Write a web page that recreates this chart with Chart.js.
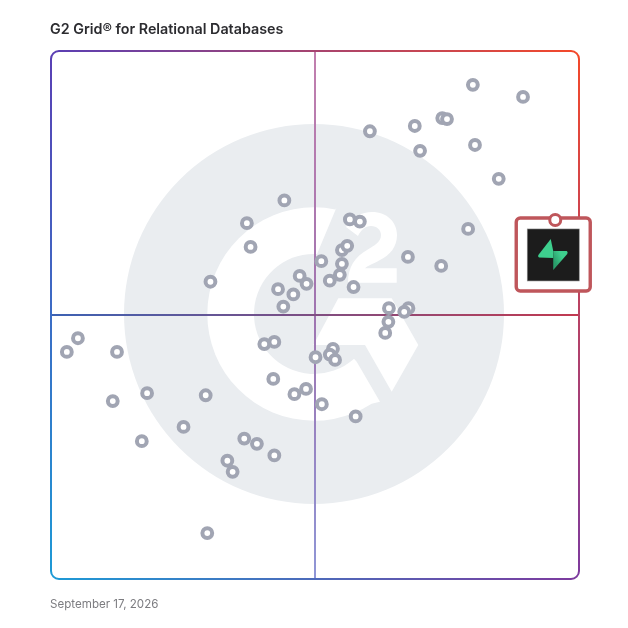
<!DOCTYPE html>
<html>
<head>
<meta charset="utf-8">
<title>G2 Grid for Relational Databases</title>
<script src="https://cdn.jsdelivr.net/npm/chart.js@4/dist/chart.umd.min.js"></script>
<style>
  html, body { margin: 0; padding: 0; background: #fff; }
  #wrap { position: relative; width: 628px; height: 628px; overflow: hidden; }
  canvas { position: absolute; left: 0; top: 0; }
  #title { position: absolute; left: 50px; top: 20px; font: 600 14.3px Inter, sans-serif; color: #2c2c30; white-space: nowrap; }
  #date { position: absolute; left: 50px; top: 597px; font: 400 11.6px Inter, sans-serif; color: #7c7c80; white-space: nowrap; }
</style>
</head>
<body>
<div id="wrap">
  <canvas id="grid" width="628" height="628"></canvas>
  <div id="title">G2 Grid® for Relational Databases</div>
  <div id="date">September 17, 2026</div>
</div>
<script>
'use strict';

// satisfaction (x) and market presence (y), both on a 0-100 scale
var productX = [79.9, 89.4, 74.1, 75.0, 68.9, 60.4, 80.3, 69.9, 84.8, 44.2, 37.1, 37.8, 30.2, 56.6, 58.5,
  79.0, 55.1, 56.1, 51.2, 55.1, 54.7, 52.8, 57.3, 47.1, 48.4, 43.0, 45.9, 44.0, 67.6, 73.9,
  67.7, 66.9, 64.0, 63.9, 63.3, 42.3, 40.4, 53.4, 52.8, 53.8, 50.1, 42.1, 48.3, 46.1, 51.3,
  57.7, 18.2, 29.3, 25.1, 17.2, 36.6, 39.0, 42.3, 33.4, 34.4, 3.0, 5.1, 12.5, 11.7, 29.6];
var productY = [93.6, 91.3, 87.3, 87.1, 85.8, 84.8, 82.2, 81.1, 75.8, 71.7, 67.4, 62.9, 56.3, 68.1, 67.7,
  66.3, 62.3, 63.1, 60.2, 59.7, 57.6, 56.5, 55.3, 57.4, 55.9, 54.9, 53.9, 51.6, 61.0, 59.3,
  51.3, 50.6, 51.3, 48.7, 46.6, 44.9, 44.5, 43.6, 42.5, 41.5, 42.0, 37.9, 36.0, 35.0, 33.1,
  30.8, 35.2, 34.8, 28.8, 26.1, 26.6, 25.6, 23.4, 22.4, 20.3, 43.0, 45.6, 43.0, 33.7, 8.7];
var highlightX = [95.5];
var highlightY = [68.0];

var productPoints = productX.map(function (x, i) {
  return { x: x, y: productY[i] };
});
var highlightPoints = highlightX.map(function (x, i) {
  return { x: x, y: highlightY[i] };
});

var DISC_COLOR = '#eaedf0';
var BOX_COLOR = '#bf565b';

function lineGradient(ctx, x0, y0, x1, y1, from, to) {
  var g = ctx.createLinearGradient(x0, y0, x1, y1);
  g.addColorStop(0, from);
  g.addColorStop(1, to);
  return g;
}

// big grey G2 watermark behind the grid
function drawWatermark(ctx, cx, cy) {
  ctx.save();
  ctx.translate(cx, cy);
  ctx.fillStyle = DISC_COLOR;
  ctx.beginPath();
  ctx.arc(-1, -1, 190, 0, Math.PI * 2);
  ctx.fill();

  ctx.fillStyle = '#fff';
  // the C
  ctx.beginPath();
  ctx.moveTo(21.5, -107.5);
  ctx.arc(-1, -1, 106.7, -1.37, 1.0, true);
  ctx.lineTo(65, 86.7);
  ctx.lineTo(41.7, 46.7);
  ctx.arc(-1, -1, 60, 0.84, -1.52, false);
  ctx.closePath();
  ctx.fill();

  // the chevron
  ctx.beginPath();
  ctx.moveTo(23.3, -16.7);
  ctx.lineTo(76.7, -16.7);
  ctx.lineTo(103.3, 30);
  ctx.lineTo(76.7, 76.7);
  ctx.lineTo(50, 30);
  ctx.lineTo(-1.7, 30);
  ctx.closePath();
  ctx.fill();

  // the 2
  ctx.beginPath();
  ctx.moveTo(31, -88);
  ctx.bezierCurveTo(37, -98, 47, -103, 57, -103);
  ctx.bezierCurveTo(72, -103, 82, -93, 82, -80);
  ctx.bezierCurveTo(82, -68, 75, -60, 65, -55);
  ctx.bezierCurveTo(58, -51, 52, -49, 50, -46.7);
  ctx.lineTo(81.7, -46.7);
  ctx.lineTo(81.7, -32.3);
  ctx.lineTo(33, -32.3);
  ctx.bezierCurveTo(33, -48, 40, -58, 52, -65);
  ctx.bezierCurveTo(60, -70, 66, -73, 66, -80);
  ctx.bezierCurveTo(66, -85, 62, -89, 56, -89);
  ctx.bezierCurveTo(50, -89, 46, -85, 43, -79);
  ctx.closePath();
  ctx.fill();
  ctx.restore();
}

// the quadrant frame, one stroke per side with its own colour ramp
function drawFrame(ctx, l, t, r, b) {
  var rad = 8;
  var topLeft = '#5a3fb4';
  var topRight = '#f4492a';
  var bottomRight = '#7d3a9e';
  var bottomLeft = '#1d9ad6';
  ctx.save();
  ctx.lineWidth = 2;
  ctx.lineCap = 'butt';

  ctx.strokeStyle = lineGradient(ctx, l, t, r, t, topLeft, topRight);
  ctx.beginPath();
  ctx.moveTo(l, t + rad);
  ctx.arcTo(l, t, l + rad, t, rad);
  ctx.lineTo(r - rad, t);
  ctx.arcTo(r, t, r, t + rad, rad);
  ctx.stroke();

  ctx.strokeStyle = lineGradient(ctx, r, t, r, b, topRight, bottomRight);
  ctx.beginPath();
  ctx.moveTo(r, t + rad);
  ctx.lineTo(r, b - rad);
  ctx.stroke();

  ctx.strokeStyle = lineGradient(ctx, l, b, r, b, bottomLeft, bottomRight);
  ctx.beginPath();
  ctx.moveTo(l, b - rad);
  ctx.arcTo(l, b, l + rad, b, rad);
  ctx.lineTo(r - rad, b);
  ctx.arcTo(r, b, r, b - rad, rad);
  ctx.stroke();

  ctx.strokeStyle = lineGradient(ctx, l, t, l, b, topLeft, bottomLeft);
  ctx.beginPath();
  ctx.moveTo(l, t + rad);
  ctx.lineTo(l, b - rad);
  ctx.stroke();
  ctx.restore();
}

// red box with the product logo, hangs below its data point
function drawLogoBox(ctx, px, py) {
  var x = px - 39;
  var y = py - 2;
  ctx.save();
  ctx.beginPath();
  ctx.roundRect(x, y, 74, 73, 4);
  ctx.fillStyle = '#fff';
  ctx.fill();
  ctx.lineWidth = 3.4;
  ctx.strokeStyle = BOX_COLOR;
  ctx.stroke();

  ctx.fillStyle = '#1c1c1c';
  ctx.fillRect(x + 11, y + 11, 52, 52);
  ctx.strokeStyle = '#8d8d8d';
  ctx.lineWidth = 0.6;
  ctx.strokeRect(x + 11, y + 11, 52, 52);

  ctx.translate(x + 11, y + 11);
  ctx.beginPath();
  ctx.moveTo(23.5, 10);
  ctx.lineTo(26, 22);
  ctx.lineTo(26, 29);
  ctx.lineTo(12, 28.5);
  ctx.quadraticCurveTo(10, 27.5, 11.5, 25.5);
  ctx.closePath();
  ctx.fillStyle = '#3ecf8e';
  ctx.fill();
  ctx.beginPath();
  ctx.moveTo(26, 41);
  ctx.lineTo(26, 22);
  ctx.lineTo(39.5, 22);
  ctx.quadraticCurveTo(41, 23, 40, 25);
  ctx.closePath();
  ctx.fillStyle = lineGradient(ctx, 26, 30, 34, 26, '#2a9e6b', '#3ecf8e');
  ctx.fill();
  ctx.restore();
}

var gridBackdrop = {
  id: 'gridBackdrop',
  beforeDatasetsDraw: function (chart) {
    var ctx = chart.ctx;
    var xs = chart.scales.x;
    var ys = chart.scales.y;
    var l = xs.getPixelForValue(0);
    var r = xs.getPixelForValue(100);
    var t = ys.getPixelForValue(100);
    var b = ys.getPixelForValue(0);
    var midX = xs.getPixelForValue(50);
    var midY = ys.getPixelForValue(50);

    drawWatermark(ctx, midX, midY);

    ctx.save();
    ctx.lineWidth = 2;
    ctx.strokeStyle = lineGradient(ctx, l, midY, r, midY, '#3c62b4', '#c23a50');
    ctx.beginPath();
    ctx.moveTo(l, midY);
    ctx.lineTo(r, midY);
    ctx.stroke();
    // the vertical one is paler than the horizontal
    var vertical = lineGradient(ctx, midX, t, midX, b, '#c27fae', '#8f96d6');
    vertical.addColorStop(0.5, '#9f74b0');
    ctx.strokeStyle = vertical;
    ctx.beginPath();
    ctx.moveTo(midX, t);
    ctx.lineTo(midX, midY - 1);
    ctx.moveTo(midX, midY + 1);
    ctx.lineTo(midX, b);
    ctx.stroke();
    ctx.restore();

    drawFrame(ctx, l, t, r, b);
    drawLogoBox(ctx, xs.getPixelForValue(highlightX[0]), ys.getPixelForValue(highlightY[0]));
  },
};

var ctx = document.getElementById('grid').getContext('2d');
/* eslint-disable-next-line no-unused-vars */
var gridChart = new Chart(ctx, {
  type: 'scatter',
  plugins: [gridBackdrop],
  data: {
    datasets: [
      {
        label: 'Products',
        data: productPoints,
        pointRadius: 4.9,
        pointHoverRadius: 4.9,
        pointBorderWidth: 4,
        pointBorderColor: '#a1a5b3',
        pointBackgroundColor: '#ffffff',
      },
      {
        label: 'Highlighted product',
        data: highlightPoints,
        pointRadius: 5.5,
        pointHoverRadius: 5.5,
        pointBorderWidth: 3,
        pointBorderColor: BOX_COLOR,
        pointBackgroundColor: '#ffffff',
      },
    ],
  },
  options: {
    responsive: false,
    animation: false,
    layout: {
      padding: { left: 51, right: 49, top: 51, bottom: 49 },
    },
    plugins: {
      legend: { display: false },
      title: { display: false },
      tooltip: { enabled: false },
    },
    scales: {
      x: { type: 'linear', min: 0, max: 100, display: false },
      y: { type: 'linear', min: 0, max: 100, display: false },
    },
  },
});
</script>
</body>
</html>
